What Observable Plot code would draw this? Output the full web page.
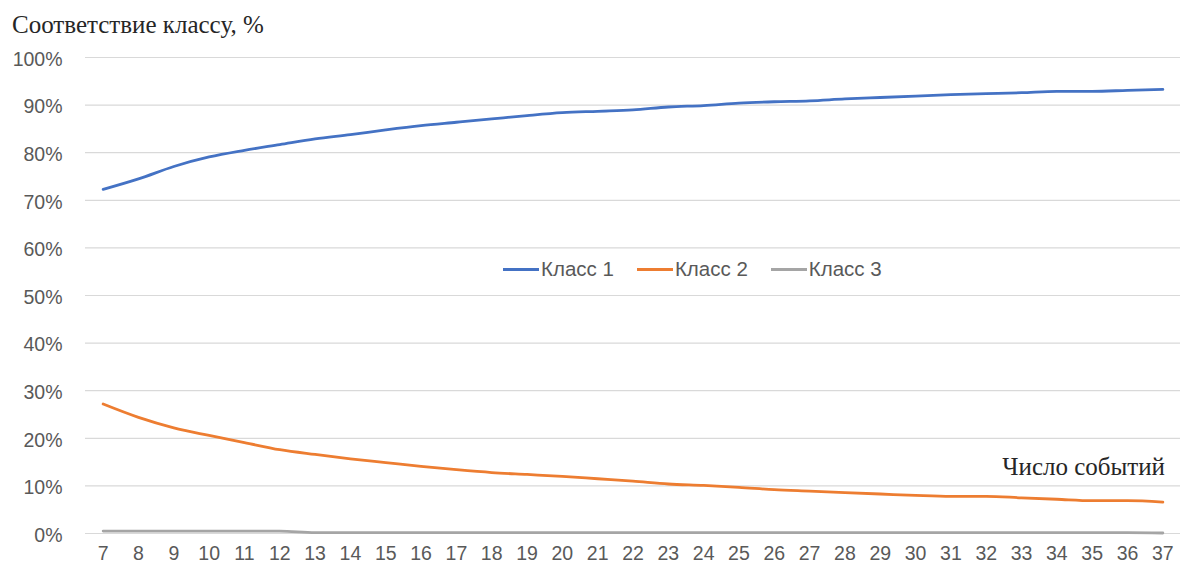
<!DOCTYPE html>
<html><head><meta charset="utf-8">
<script src="https://cdn.jsdelivr.net/npm/d3@7"></script>
<script src="https://cdn.jsdelivr.net/npm/@observablehq/plot@0.6"></script>
<style>
body{margin:0;background:#fff;}
#wrap{position:relative;width:1180px;height:574px;overflow:hidden;}
#title{height:40px;box-sizing:border-box;padding:12px 0 0 12px;font:25px/1 "Liberation Serif",serif;color:#262626;white-space:nowrap;}
#legend{position:absolute;left:503px;top:259px;display:flex;align-items:center;font:20.5px/1 "Liberation Sans",sans-serif;color:#595959;white-space:nowrap;}
#legend .item{display:flex;align-items:center;margin-right:23px;}
#legend .sw{width:36px;height:3px;margin-right:2px;}
#note{position:absolute;right:15px;top:454px;font:25px/1 "Liberation Serif",serif;color:#262626;white-space:nowrap;}
</style></head><body>
<div id="wrap"><div id="title">Соответствие классу, %</div><div id="chart"></div><div id="legend"></div><div id="note">Число событий</div></div>
<script>
const events = [7,8,9,10,11,12,13,14,15,16,17,18,19,20,21,22,23,24,25,26,27,28,29,30,31,32,33,34,35,36,37];
const class1 = [72.3,74.5,77.1,79.1,80.5,81.7,82.9,83.8,84.8,85.7,86.4,87.1,87.8,88.4,88.7,89.0,89.6,89.9,90.4,90.7,90.9,91.3,91.6,91.9,92.2,92.4,92.6,92.9,92.9,93.1,93.3];
const class2 = [27.2,24.4,22.2,20.6,19.1,17.6,16.6,15.7,14.9,14.1,13.4,12.8,12.4,12.0,11.5,11.0,10.4,10.1,9.7,9.2,8.9,8.6,8.3,8.0,7.8,7.8,7.5,7.2,6.9,6.9,6.6];
const class3 = [0.5,0.5,0.5,0.5,0.5,0.5,0.2,0.2,0.2,0.2,0.2,0.2,0.2,0.2,0.2,0.2,0.2,0.2,0.2,0.2,0.2,0.2,0.2,0.2,0.2,0.2,0.2,0.2,0.2,0.2,0.1];
const seriesNames = ["Класс 1","Класс 2","Класс 3"];
const seriesColors = ["#4472C4","#ED7D31","#A5A5A5"];
const yTicks = [0,10,20,30,40,50,60,70,80,90,100];

const rows = [];
[class1,class2,class3].forEach((arr,i)=>arr.forEach((v,j)=>rows.push({n:events[j], v, s:seriesNames[i]})));

const chart = Plot.plot({
  width:1180, height:534,
  marginLeft:85, marginRight:0, marginTop:17, marginBottom:41,
  style:{fontFamily:"Liberation Sans, sans-serif", fontSize:"19.5px", color:"#595959", background:"#fff"},
  x:{type:"point", domain:events, padding:0.5, round:false, label:null},
  y:{domain:[0,100], label:null},
  color:{domain:seriesNames, range:seriesColors},
  marks:[
    Plot.ruleY(yTicks, {stroke:"#d9d9d9", strokeWidth:1.2}),
    Plot.axisY({ticks:yTicks, tickSize:0, tickPadding:23, tickFormat:d=>d+"%", dy:2, fill:"#595959"}),
    Plot.axisX({tickSize:0, tickPadding:13, fill:"#595959"}),
    Plot.line(rows, {x:"n", y:"v", stroke:"s", z:"s", strokeWidth:2.8, curve:"monotone-x"})
  ]
});
document.getElementById("chart").appendChild(chart);

const lg = document.getElementById("legend");
seriesNames.forEach((name,i)=>{
  const it = document.createElement("div"); it.className="item";
  const sw = document.createElement("div"); sw.className="sw"; sw.style.background=seriesColors[i];
  const t = document.createElement("span"); t.textContent=name;
  it.appendChild(sw); it.appendChild(t); lg.appendChild(it);
});
</script>
</body></html>
